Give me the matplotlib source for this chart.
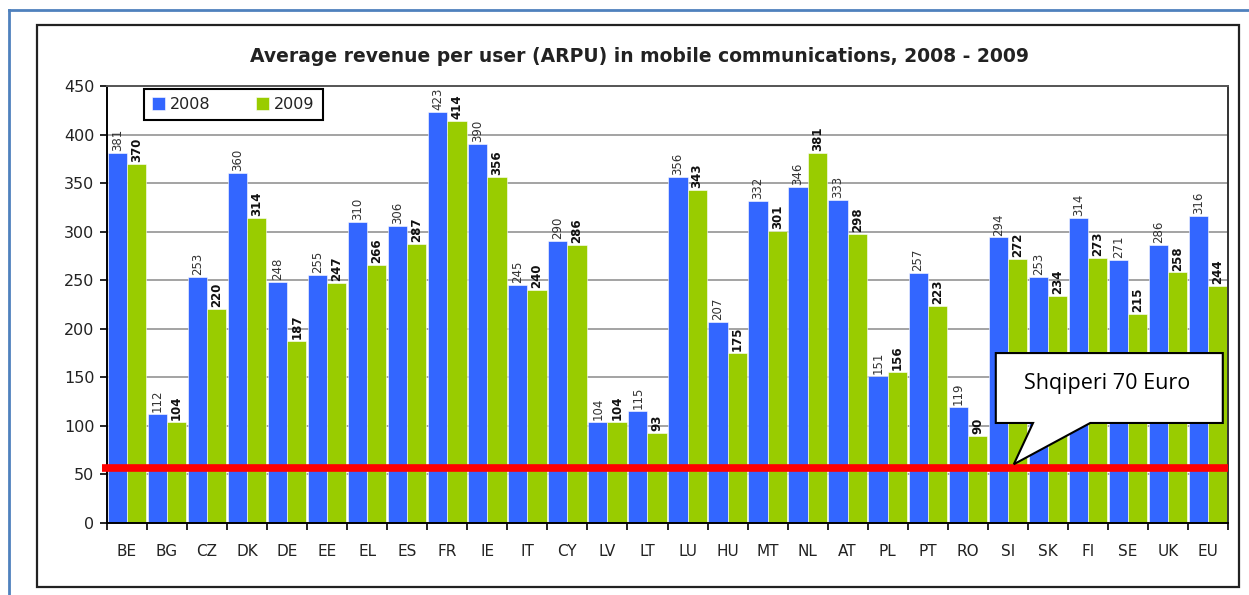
import matplotlib
matplotlib.use('Agg')
import matplotlib.pyplot as plt
from matplotlib.patches import Polygon, Rectangle
from matplotlib.lines import Line2D
import numpy as np

# ---------------- data ----------------
countries = ['BE', 'BG', 'CZ', 'DK', 'DE', 'EE', 'EL', 'ES', 'FR', 'IE', 'IT', 'CY', 'LV', 'LT',
             'LU', 'HU', 'MT', 'NL', 'AT', 'PL', 'PT', 'RO', 'SI', 'SK', 'FI', 'SE', 'UK', 'EU']
arpu_2008 = [381, 112, 253, 360, 248, 255, 310, 306, 423, 390, 245, 290, 104, 115,
             356, 207, 332, 346, 333, 151, 257, 119, 294, 253, 314, 271, 286, 316]
arpu_2009 = [370, 104, 220, 314, 187, 247, 266, 287, 414, 356, 240, 286, 104, 93,
             343, 175, 301, 381, 298, 156, 223, 90, 272, 234, 273, 215, 258, 244]
series_labels = ['2008', '2009']
y_ticks = [0, 50, 100, 150, 200, 250, 300, 350, 400, 450]
title = 'Average revenue per user (ARPU) in mobile communications, 2008 - 2009'
callout_text = 'Shqiperi 70 Euro'
albania_line = 57

# ---------------- style ----------------
plt.rcParams['font.family'] = ['DejaVu Sans']
BLUE = '#3366FF'
GREEN = '#99CC00'
W, H = 1249, 595

fig = plt.figure(figsize=(W / 100, H / 100), dpi=100)
fig.patch.set_facecolor('white')

# outer page border (blue) and chart frame
fig.add_artist(Line2D([9 / W, 9 / W], [1 - 10 / H, 0], transform=fig.transFigure,
                      color='#4F81BD', lw=2))
fig.add_artist(Line2D([9 / W, 1], [1 - 10 / H, 1 - 10 / H], transform=fig.transFigure,
                      color='#4F81BD', lw=2))
fig.add_artist(Rectangle((37 / W, 1 - 587 / H), (1239 - 37) / W, (587 - 25) / H,
                         transform=fig.transFigure, fill=False, ec='#222222', lw=1.6))

ax = fig.add_axes([107 / W, 1 - 523 / H, (1228 - 107) / W, (523 - 86) / H])

n = len(countries)
idx = np.arange(n)
bw = 0.48
b1 = ax.bar(idx + 0.26, arpu_2008, bw, color=BLUE, edgecolor='white', linewidth=0.4,
            label=series_labels[0], zorder=2)
b2 = ax.bar(idx + 0.74, arpu_2009, bw, color=GREEN, edgecolor='white', linewidth=0.4,
            label=series_labels[1], zorder=2)

for rect, v in zip(b1, arpu_2008):
    ax.text(rect.get_x() + rect.get_width() / 2, v + 2, str(v), rotation=90,
            ha='center', va='bottom', fontsize=8.5, color='#333333', zorder=3)
for rect, v in zip(b2, arpu_2009):
    ax.text(rect.get_x() + rect.get_width() / 2, v + 2, str(v), rotation=90,
            ha='center', va='bottom', fontsize=8.5, fontweight='bold', color='#111111', zorder=3)

ax.set_xlim(0, n)
ax.set_ylim(0, 450)
ax.set_yticks(y_ticks)
ax.set_yticklabels([str(t) for t in y_ticks], fontsize=11.5, color='#222222')
ax.set_xticks(idx + 0.5)
ax.set_xticklabels(countries, fontsize=11, color='#222222')
ax.set_xticks(np.arange(n + 1), minor=True)
ax.tick_params(axis='x', which='major', length=0, pad=15)
ax.tick_params(axis='x', which='minor', length=5, width=1.2, color='black', direction='out')
ax.tick_params(axis='y', length=5, width=1.2, color='black', direction='out', pad=4)

ax.yaxis.grid(True, color='#8a8a8a', lw=1.1, zorder=0)
ax.set_axisbelow(True)
for s in ['left', 'bottom']:
    ax.spines[s].set_color('black')
    ax.spines[s].set_linewidth(1.4)
ax.spines['top'].set_color('#555555')
ax.spines['top'].set_linewidth(1.4)
ax.spines['right'].set_color('#333333')
ax.spines['right'].set_linewidth(1.4)

leg = ax.legend(handles=[b1, b2], labels=series_labels, loc='upper left',
                bbox_to_anchor=(0.033, 0.993), borderaxespad=0, ncol=2, fontsize=11.5,
                handlelength=0.8, handleheight=0.8, handletextpad=0.3, columnspacing=2.9,
                fancybox=False, framealpha=1, edgecolor='black', borderpad=0.5)
leg.get_frame().set_linewidth(1.5)
leg._legend_box.sep = 0
for t in leg.get_texts():
    t.set_color('#222222')

fig.text(639 / W, 1 - 57 / H, title, ha='center', va='center', fontsize=13.5,
         fontweight='bold', color='#222222')

# Albania reference line
ax.plot([-0.12, 28.0], [albania_line, albania_line], color='#FF0000', lw=5.5,
        solid_capstyle='butt', clip_on=False, zorder=4)

# callout
call = Polygon([(22.2, 175), (27.87, 175), (27.87, 103), (24.56, 103), (22.65, 60.5),
                (23.13, 103), (22.2, 103)], closed=True, facecolor='white',
               edgecolor='black', lw=1.5, zorder=5)
ax.add_patch(call)
ax.text((22.2 + 27.87) / 2 - 0.05, 144, callout_text, ha='center', va='center', fontsize=15.5,
        family=['Open Sans', 'DejaVu Sans'], color='black', zorder=6)

fig.savefig('out.png', dpi=100, facecolor='white')
